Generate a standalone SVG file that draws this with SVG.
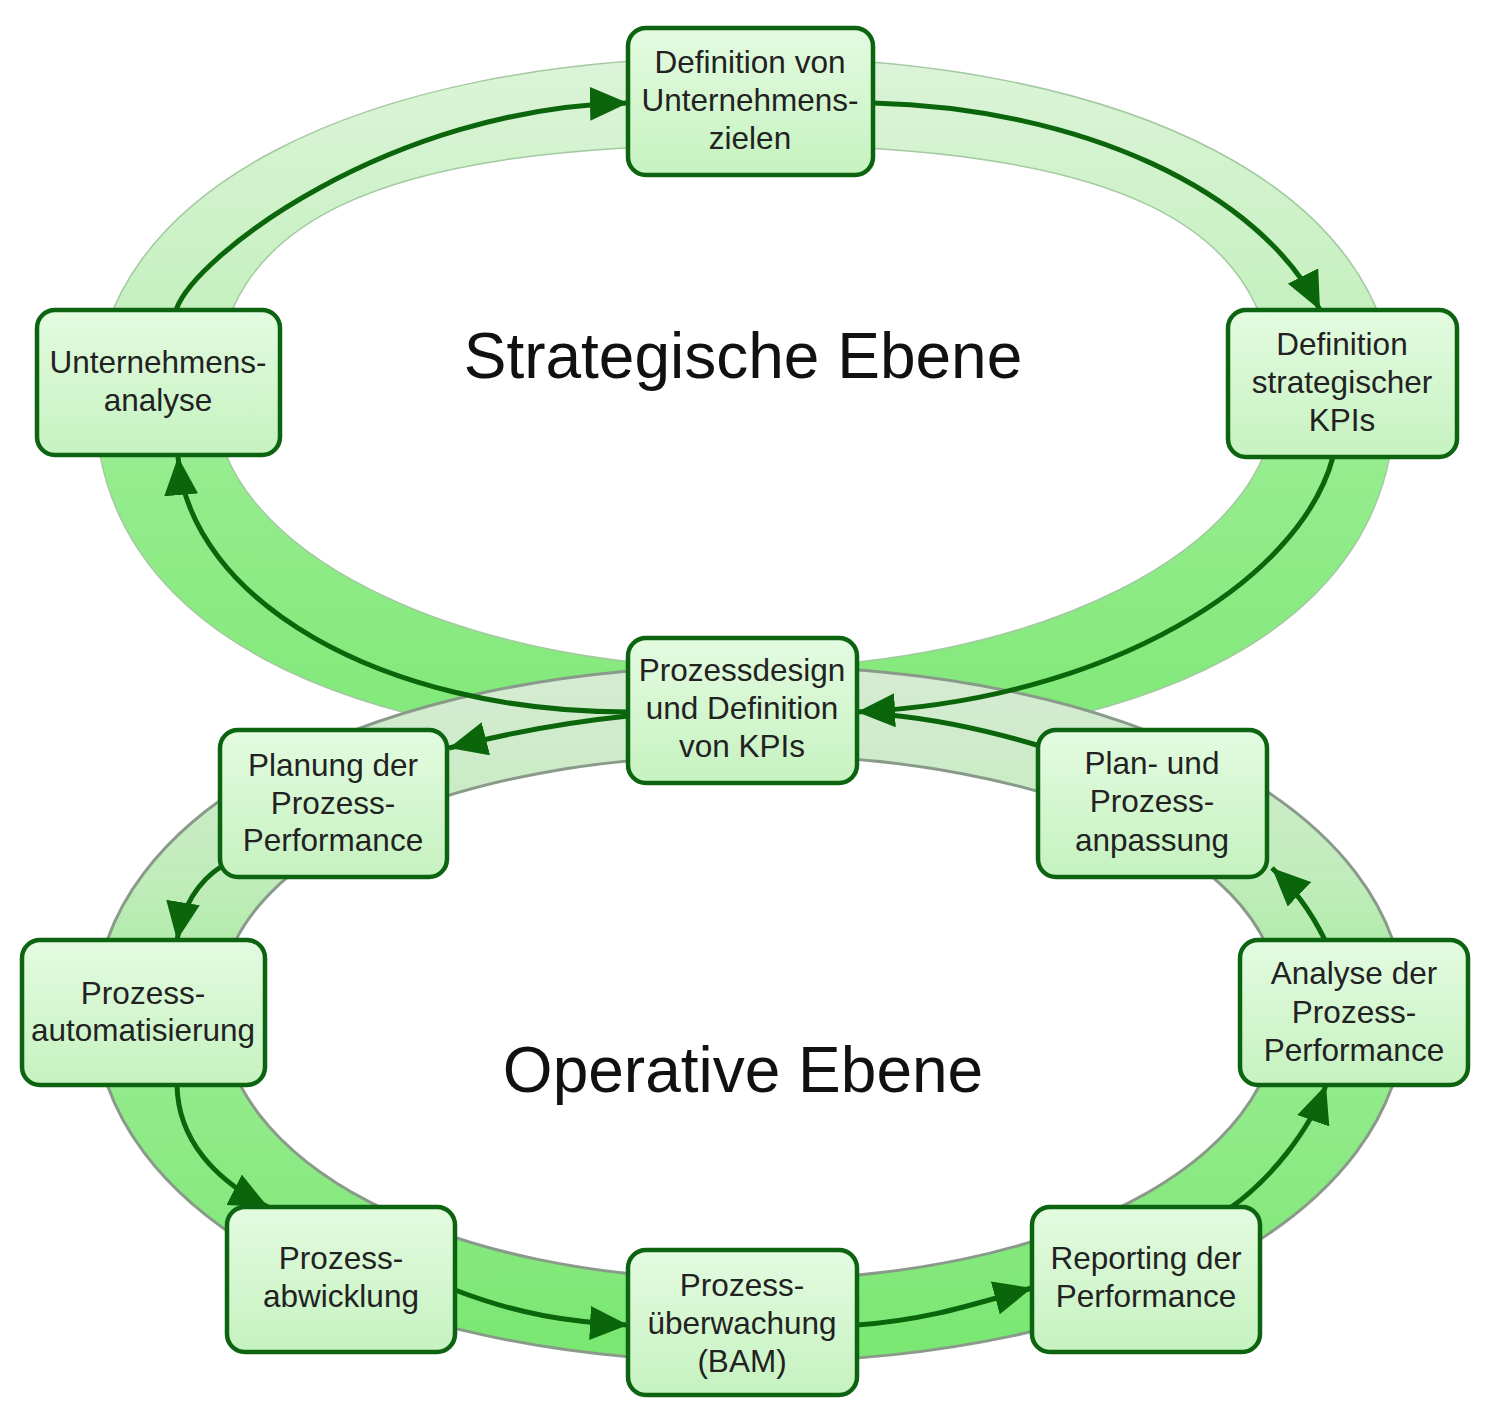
<svg xmlns="http://www.w3.org/2000/svg" width="1500" height="1405" viewBox="0 0 1500 1405">
  <defs>
    <style>
      .node rect { fill: url(#nodeFill); stroke: #0c6410; stroke-width: 4.5; }
      .node text { font-family: "Liberation Sans", Arial, sans-serif; font-size: 31.5px; fill: #222222; text-anchor: middle; }
      .conn path { fill: none; stroke: #0b650b; stroke-width: 5; }
      .big { font-family: "Liberation Sans", Arial, sans-serif; font-size: 64px; fill: #111; text-anchor: middle; }
    </style>
    <linearGradient id="nodeFill" x1="0" y1="0" x2="0" y2="1">
      <stop offset="0" stop-color="#e3fbe0"/>
      <stop offset="1" stop-color="#c6f2c0"/>
    </linearGradient>
    <linearGradient id="topRing" gradientUnits="userSpaceOnUse" x1="0" y1="57" x2="0" y2="750">
      <stop offset="0" stop-color="#dcf4d8"/>
      <stop offset="0.38" stop-color="#c5f0bf"/>
      <stop offset="0.6" stop-color="#95ec8d"/>
      <stop offset="1" stop-color="#7fe977"/>
    </linearGradient>
    <linearGradient id="lowRing" gradientUnits="userSpaceOnUse" x1="0" y1="666" x2="0" y2="1362">
      <stop offset="0" stop-color="#d6ebd3"/>
      <stop offset="0.3" stop-color="#c2ecbc"/>
      <stop offset="0.6" stop-color="#93eb8b"/>
      <stop offset="1" stop-color="#79e771"/>
    </linearGradient>
    <marker id="ah" viewBox="0 0 38 34" refX="38" refY="17" markerWidth="38" markerHeight="34" markerUnits="userSpaceOnUse" orient="auto">
      <path d="M0,0 L38,17 L0,34 Z" fill="#0b650b"/>
    </marker>
  </defs>

  <rect x="0" y="0" width="1500" height="1405" fill="#ffffff"/>

  <g id="rings">
    <path id="strategic-ring-outer" d="M745,57 C1135,57 1395,194 1395,400 C1395,624 1161,750 745,750 C329,750 95,624 95,400 C95,194 355,57 745,57 Z" fill="url(#topRing)" stroke="#a3c9a0" stroke-width="1.5"/>
    <path id="strategic-ring-inner" d="M745,145 C1116,145 1275,221 1275,400 C1275,548 1038,668 745,668 C452,668 215,548 215,400 C215,221 374,145 745,145 Z" fill="#ffffff" stroke="#a3c9a0" stroke-width="1.5"/>
    <path id="operative-ring-outer" d="M750,666 C1130,666 1405,811 1405,1012 C1405,1215 1130,1362 750,1362 C370,1362 95,1215 95,1012 C95,811 370,666 750,666 Z" fill="url(#lowRing)" stroke="#8a9a8a" stroke-width="3"/>
    <path id="operative-ring-inner" d="M750,755 C1057,755 1280,860 1280,1005 C1280,1164 1057,1280 750,1280 C443,1280 220,1164 220,1005 C220,860 443,755 750,755 Z" fill="#ffffff" stroke="#8a9a8a" stroke-width="3"/>
  </g>

  <text class="big" x="743" y="378">Strategische Ebene</text>
  <text class="big" x="743" y="1092">Operative Ebene</text>

  <g id="connectors" class="conn">
    <path d="M176,310 C195,255 390,108 628,103" marker-end="url(#ah)"/>
    <path d="M873,103 C1080,108 1260,190 1320,310" marker-end="url(#ah)"/>
    <path d="M1333,457 C1300,580 1110,700 857,712" marker-end="url(#ah)"/>
    <path d="M628,712 C380,712 190,600 178,457" marker-end="url(#ah)"/>
    <path d="M628,716 Q540,725 449,748" marker-end="url(#ah)"/>
    <path d="M222,866 Q185,890 177,940" marker-end="url(#ah)"/>
    <path d="M177,1085 C178,1140 215,1180 268,1207" marker-end="url(#ah)"/>
    <path d="M455,1290 C520,1315 570,1322 628,1325" marker-end="url(#ah)"/>
    <path d="M857,1325 C930,1320 980,1302 1032,1288" marker-end="url(#ah)"/>
    <path d="M1230,1208 C1270,1180 1310,1130 1326,1085" marker-end="url(#ah)"/>
    <path d="M1325,940 C1310,910 1295,890 1272,868" marker-end="url(#ah)"/>
    <path d="M1040,746 Q960,722 890,715"/>
  </g>

  <g id="node-definition-unternehmensziele" class="node">
    <rect x="628" y="28" width="245" height="147" rx="18"/>
    <text x="750" y="73">Definition von</text>
    <text x="750" y="111">Unternehmens-</text>
    <text x="750" y="149">zielen</text>
  </g>
  <g id="node-unternehmensanalyse" class="node">
    <rect x="37" y="310" width="243" height="145" rx="18"/>
    <text x="158" y="373">Unternehmens-</text>
    <text x="158" y="411">analyse</text>
  </g>
  <g id="node-strategische-kpis" class="node">
    <rect x="1228" y="310" width="229" height="147" rx="18"/>
    <text x="1342" y="355">Definition</text>
    <text x="1342" y="393">strategischer</text>
    <text x="1342" y="431">KPIs</text>
  </g>
  <g id="node-prozessdesign" class="node">
    <rect x="628" y="638" width="229" height="145" rx="18"/>
    <text x="742" y="681">Prozessdesign</text>
    <text x="742" y="719">und Definition</text>
    <text x="742" y="757">von KPIs</text>
  </g>
  <g id="node-planung" class="node">
    <rect x="220" y="730" width="227" height="147" rx="18"/>
    <text x="333" y="776">Planung der</text>
    <text x="333" y="814">Prozess-</text>
    <text x="333" y="851">Performance</text>
  </g>
  <g id="node-anpassung" class="node">
    <rect x="1038" y="730" width="229" height="147" rx="18"/>
    <text x="1152" y="774">Plan- und</text>
    <text x="1152" y="812">Prozess-</text>
    <text x="1152" y="851">anpassung</text>
  </g>
  <g id="node-automatisierung" class="node">
    <rect x="22" y="940" width="243" height="145" rx="18"/>
    <text x="143" y="1004">Prozess-</text>
    <text x="143" y="1041">automatisierung</text>
  </g>
  <g id="node-analyse" class="node">
    <rect x="1240" y="940" width="228" height="145" rx="18"/>
    <text x="1354" y="984">Analyse der</text>
    <text x="1354" y="1023">Prozess-</text>
    <text x="1354" y="1061">Performance</text>
  </g>
  <g id="node-abwicklung" class="node">
    <rect x="227" y="1207" width="228" height="145" rx="18"/>
    <text x="341" y="1269">Prozess-</text>
    <text x="341" y="1307">abwicklung</text>
  </g>
  <g id="node-ueberwachung" class="node">
    <rect x="628" y="1250" width="229" height="145" rx="18"/>
    <text x="742" y="1296">Prozess-</text>
    <text x="742" y="1334">überwachung</text>
    <text x="742" y="1372">(BAM)</text>
  </g>
  <g id="node-reporting" class="node">
    <rect x="1032" y="1207" width="228" height="145" rx="18"/>
    <text x="1146" y="1269">Reporting der</text>
    <text x="1146" y="1307">Performance</text>
  </g>
</svg>
